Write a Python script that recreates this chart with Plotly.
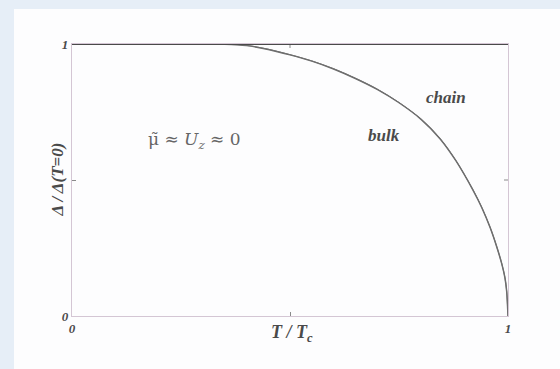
import plotly.graph_objects as go

# Reduced temperature T/Tc and normalized gap Δ/Δ(T=0)
t_red = [0.0, 0.30, 0.35, 0.40, 0.45, 0.50, 0.55, 0.60, 0.65, 0.70, 0.75, 0.80, 0.844,
         0.88, 0.92, 0.94, 0.959, 0.973, 0.986, 0.993, 0.997, 1.0]
gap_bulk = [1.0, 1.0, 0.999, 0.994, 0.980, 0.960, 0.937, 0.908, 0.873, 0.833, 0.784, 0.724, 0.652,
            0.572, 0.462, 0.398, 0.325, 0.260, 0.190, 0.140, 0.090, 0.0]
gap_chain = [1.0, 1.0, 0.999, 0.995, 0.981, 0.961, 0.938, 0.909, 0.874, 0.834, 0.785, 0.725, 0.653,
             0.573, 0.463, 0.399, 0.326, 0.261, 0.191, 0.141, 0.091, 0.0]

tick_vals = [0, 1]
tick_text = ["0", "1"]
mid_ticks = [0.5]

curve_color = "#6e6e6e"
frame_color = "#d4c6d4"
text_color = "#4a4a4a"
serif = "Liberation Serif"

fig = go.Figure()
fig.add_trace(go.Scatter(x=t_red, y=gap_bulk, mode="lines", name="bulk",
                         line=dict(color=curve_color, width=1.5, shape="spline", smoothing=0.8)))
fig.add_trace(go.Scatter(x=t_red, y=gap_chain, mode="lines", name="chain",
                         line=dict(color=curve_color, width=1.0, shape="spline", smoothing=0.8)))

axis_common = dict(
    range=[0, 1], tickmode="array", tickvals=tick_vals, ticktext=tick_text,
    showline=True, linecolor=frame_color, linewidth=1.2, mirror=True,
    ticks="", showgrid=False, zeroline=False,
    minor=dict(tickmode="array", tickvals=mid_ticks, ticks="inside", ticklen=4,
               tickcolor="#8a8a8a", tickwidth=1, showgrid=False),
    tickfont=dict(family=serif, size=13, color=text_color, style="italic", weight="bold"),
)
fig.update_xaxes(**axis_common)
fig.update_yaxes(**axis_common)

# mirrored middle ticks on the top and right edges
fig.add_shape(type="line", xref="x", yref="paper", x0=0.5, x1=0.5, y0=1, y1=1 - 4 / 272,
              line=dict(color="#8a8a8a", width=1))
fig.add_shape(type="line", xref="paper", yref="y", x0=1, x1=1 - 4 / 436, y0=0.5, y1=0.5,
              line=dict(color="#8a8a8a", width=1))

# dark upper edge of the frame
fig.add_shape(type="line", xref="x", yref="y", x0=0, x1=1, y0=1, y1=1,
              line=dict(color="#4a4a4a", width=1.8), layer="above")

# slide background: light blue strip on left/top, white page
fig.add_shape(type="rect", xref="paper", yref="paper",
              x0=(14 - 72) / 436, x1=(560 - 72) / 436,
              y0=(316 - 369) / 272, y1=(316 - 9) / 272,
              fillcolor="#fdfdfe", line=dict(width=0), layer="below")

anno_font = dict(family=serif, color=text_color)
fig.add_annotation(x=0.858, y=0.805, xref="x", yref="y", text="chain", showarrow=False,
                   font=dict(size=17, style="italic", weight="bold", **anno_font))
fig.add_annotation(x=0.716, y=0.662, xref="x", yref="y", text="bulk", showarrow=False,
                   font=dict(size=17, style="italic", weight="bold", **anno_font))
fig.add_annotation(x=0.28, y=0.647, xref="x", yref="y",
                   text="μ̃ ≈ <i>U<sub>z</sub></i> ≈ 0", showarrow=False,
                   font=dict(size=17, family="DejaVu Serif", color="#666666"))
fig.add_annotation(x=(292 - 72) / 436, y=(316 - 347) / 272, xref="paper", yref="paper",
                   text="T / T<sub>c</sub>", showarrow=False,
                   font=dict(size=18, style="italic", weight="bold", **anno_font))
fig.add_annotation(x=(45 - 72) / 436, y=0.5, xref="paper", yref="paper",
                   text="Δ / Δ(T=0)", textangle=-90, showarrow=False,
                   font=dict(size=17, style="italic", weight="bold", **anno_font))

fig.update_layout(
    width=560, height=369,
    margin=dict(l=72, r=52, t=44, b=53),
    paper_bgcolor="#e6eef7",
    plot_bgcolor="#ffffff",
    showlegend=False,
)

fig.write_html("out.html")
